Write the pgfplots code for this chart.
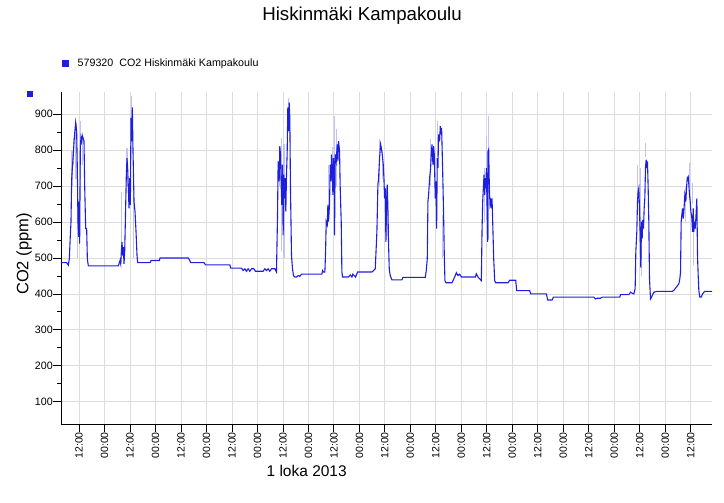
\documentclass[border=0pt]{standalone}
\usepackage{pgfplots}
\pgfplotsset{compat=1.18}
\usepackage{pgfplotstable}
\usepackage{fontspec}
\setmainfont{Liberation Sans}
\definecolor{co2}{RGB}{30,30,225}
\definecolor{co2light}{RGB}{195,195,242}
\definecolor{gridc}{RGB}{220,220,220}

% hours after the first 12:00 tick, CO2 ppm
\pgfplotstableread{
h ppm
-8.48 487
-5.81 487
-5.02 480
-4.55 498
-4.08 563
-3.77 600
-3.45 718
-3.14 750
-2.67 788
-2.20 835
-1.57 877
-1.10 853
-0.79 750
-0.47 600
-0.16 559
0.00 657
0.31 540
0.63 811
0.94 835
1.26 825
1.57 840
1.88 835
2.36 825
2.67 704
3.14 582
3.61 582
3.93 498
4.40 478
18.53 478
18.84 484
19.31 493
19.63 484
19.94 517
20.25 545
20.57 507
20.88 530
21.20 484
21.51 517
21.82 600
22.29 732
22.61 778
22.92 750
23.24 694
23.55 638
23.86 722
24.18 648
24.49 890
24.81 825
25.12 919
25.43 797
25.91 657
26.38 629
26.85 573
27.32 507
27.63 487
33.44 487
33.91 493
37.84 493
38.15 500
51.50 500
52.15 493
52.62 487
58.90 487
59.53 481
70.99 481
71.46 472
76.49 472
77.27 465
78.06 470
78.84 463
79.63 470
80.41 463
81.20 470
82.29 470
83.08 463
86.69 463
87.48 470
88.26 465
89.05 470
89.83 463
90.62 470
92.19 470
92.97 461
93.44 610
93.76 769
94.23 713
94.54 811
94.85 788
95.17 704
95.48 648
95.80 760
96.11 563
96.42 732
96.74 666
97.05 722
97.37 629
97.68 732
97.99 788
98.31 919
98.62 853
98.94 933
99.25 891
99.56 694
100.04 507
100.51 470
100.98 451
101.61 447
102.39 447
103.18 451
103.96 449
104.75 455
114.35 455
114.66 465
115.13 461
115.76 461
116.08 517
116.39 601
116.86 592
117.17 648
117.49 601
117.96 652
118.27 760
118.59 713
118.90 788
119.22 741
119.53 676
119.84 778
120.16 741
120.31 564
120.63 788
121.10 769
121.57 816
121.88 769
122.20 825
122.67 797
122.98 694
123.45 601
123.77 461
124.08 447
126.91 447
127.69 453
128.48 447
128.95 455
129.58 451
130.20 447
131.15 461
137.90 461
138.68 465
139.47 470
140.25 573
140.72 704
141.04 722
141.51 778
141.98 816
142.45 802
142.77 788
143.24 760
143.55 722
143.86 666
144.18 694
144.49 545
144.81 657
145.12 704
145.43 638
145.75 536
146.06 470
146.53 451
147.32 439
152.03 439
152.50 446
163.02 446
163.49 465
163.96 498
164.27 657
164.59 676
165.06 722
165.53 750
165.84 788
166.16 816
166.63 760
166.94 811
167.26 788
167.73 666
168.04 713
168.36 582
168.67 778
168.98 750
169.30 844
169.77 825
170.08 867
170.40 844
170.71 862
171.18 750
171.65 620
171.97 507
172.28 437
172.75 431
175.60 431
176.08 437
176.86 447
177.65 459
178.43 451
179.22 455
180.00 447
186.59 447
187.07 456
187.85 447
188.64 442
189.42 437
189.73 573
190.05 657
190.36 694
190.68 732
190.99 676
191.30 722
191.62 694
191.78 750
192.09 648
192.40 545
192.56 797
192.87 802
193.19 694
193.50 648
193.82 657
194.13 638
194.44 666
194.76 601
195.23 498
195.70 437
196.17 431
201.98 431
202.77 438
205.59 438
206.06 409
212.19 409
212.66 400
220.04 400
220.66 383
222.70 383
223.33 391
242.36 391
243.14 386
243.93 388
245.50 388
246.28 391
254.60 391
254.92 398
258.84 398
259.63 405
260.41 402
261.20 400
261.82 414
262.14 517
262.61 573
262.92 657
263.24 685
263.55 694
263.86 638
264.18 564
264.49 473
264.81 601
265.12 554
265.43 606
265.75 582
266.06 638
266.38 666
266.69 750
267.00 774
267.32 750
267.63 769
267.95 694
268.26 601
268.57 444
269.05 386
269.52 391
269.99 397
270.62 405
272.19 407
279.25 407
280.04 410
280.82 416
281.61 422
282.39 428
282.86 442
283.18 461
283.49 601
283.80 620
284.12 638
284.43 610
284.75 629
285.22 676
285.69 657
286.00 694
286.32 722
286.79 727
287.10 704
287.42 676
287.73 657
288.05 629
288.52 610
288.83 573
289.15 638
289.46 573
289.77 601
290.09 582
290.40 610
290.87 666
291.18 507
291.50 451
291.81 409
292.28 391
292.91 391
293.54 400
294.48 407
298.25 407
}\mainseries

% min/max envelope spikes (light)
\pgfplotstableread{
h ppm
-3.3 700
-3.3 800
nan nan
-2.5 760
-2.5 830
nan nan
-1.4 720
-1.4 877
nan nan
-0.5 500
-0.5 760
nan nan
0.8 720
0.8 880
nan nan
1.6 760
1.6 850
nan nan
19.8 490
19.8 683
nan nan
22.6 700
22.6 807
nan nan
24.6 820
24.6 951
nan nan
25.5 500
25.5 760
nan nan
94.5 700
94.5 811
nan nan
95.2 520
95.2 835
nan nan
96.5 500
96.5 816
nan nan
98.6 900
98.6 945
nan nan
117.5 600
117.5 760
nan nan
119.5 740
119.5 810
nan nan
120.2 560
120.2 895
nan nan
121.2 700
121.2 860
nan nan
123.5 470
123.5 600
nan nan
141.5 700
141.5 830
nan nan
143.0 720
143.0 800
nan nan
145.0 560
145.0 700
nan nan
165.5 700
165.5 830
nan nan
168.9 780
168.9 880
nan nan
171.3 500
171.3 620
nan nan
190.7 600
190.7 750
nan nan
192.0 700
192.0 840
nan nan
192.6 550
192.6 895
nan nan
263.0 650
263.0 760
nan nan
264.3 600
264.3 750
nan nan
264.9 450
264.9 600
nan nan
266.7 780
266.7 820
nan nan
285.4 600
285.4 700
nan nan
287.3 700
287.3 765
nan nan
288.9 650
288.9 710
nan nan
289.5 480
289.5 600
}\lightseries

\begin{document}
\begin{tikzpicture}
\path[use as bounding box] (0,0) rectangle (724pt,503pt);
\begin{axis}[
  at={(61pt,79pt)}, anchor=south west,
  scale only axis, width=651pt, height=332pt,
  xmin=-8.47, xmax=298.0, ymin=38, ymax=962,
  axis x line*=bottom, axis y line*=left,
  axis line style={-, black, line width=0.8pt},
  xtick={0,12,...,288},
  xticklabels={12:00,00:00,12:00,00:00,12:00,00:00,12:00,00:00,12:00,00:00,12:00,00:00,12:00,00:00,12:00,00:00,12:00,00:00,12:00,00:00,12:00,00:00,12:00,00:00,12:00},
  ytick={100,200,...,900},
  minor y tick num=1,
  tick align=outside,
  major tick length=8pt, minor tick length=4pt,
  tick style={black, line width=0.8pt},
  xmajorgrids, ymajorgrids,
  major grid style={gridc, line width=0.8pt},
  /pgf/number format/assume math mode=true,
  xticklabel style={rotate=90, anchor=east, inner sep=0pt, font=\fontsize{10.5}{12}\selectfont},
  yticklabel style={anchor=east, inner sep=0pt, font=\fontsize{10.7}{12}\selectfont},
  title={Hiskinmäki Kampakoulu},
  title style={at={(axis description cs:0.4624,1.2108)}, anchor=center, font=\fontsize{18.7}{22}\selectfont},
  ylabel={CO2 (ppm)},
  ylabel style={at={(axis description cs:-0.0568,0.512)}, anchor=center, font=\fontsize{16.5}{19}\selectfont},
  xlabel={1 loka 2013},
  xlabel style={at={(axis description cs:0.3774,-0.1407)}, anchor=center, font=\fontsize{15.5}{18}\selectfont},
  legend style={at={(axis description cs:-0.004,1.0867)}, anchor=west, draw=none, fill=none,
    font=\fontsize{10.7}{12}\selectfont, legend cell align=left},
  legend image code/.code={\fill[co2] (0pt,-3pt) rectangle (6pt,3pt);},
  clip=true,
]
\addplot[co2light, line width=1.1pt, unbounded coords=jump, forget plot] table[x=h, y=ppm] {\lightseries};
\addplot[co2, line width=1.1pt] table[x=h, y=ppm] {\mainseries};
\addlegendentry{\hspace{7pt}579320\ \ CO2 Hiskinmäki Kampakoulu}
\end{axis}
\fill[co2] (27pt,406.3pt) rectangle (33pt,411.5pt);
\end{tikzpicture}
\end{document}
